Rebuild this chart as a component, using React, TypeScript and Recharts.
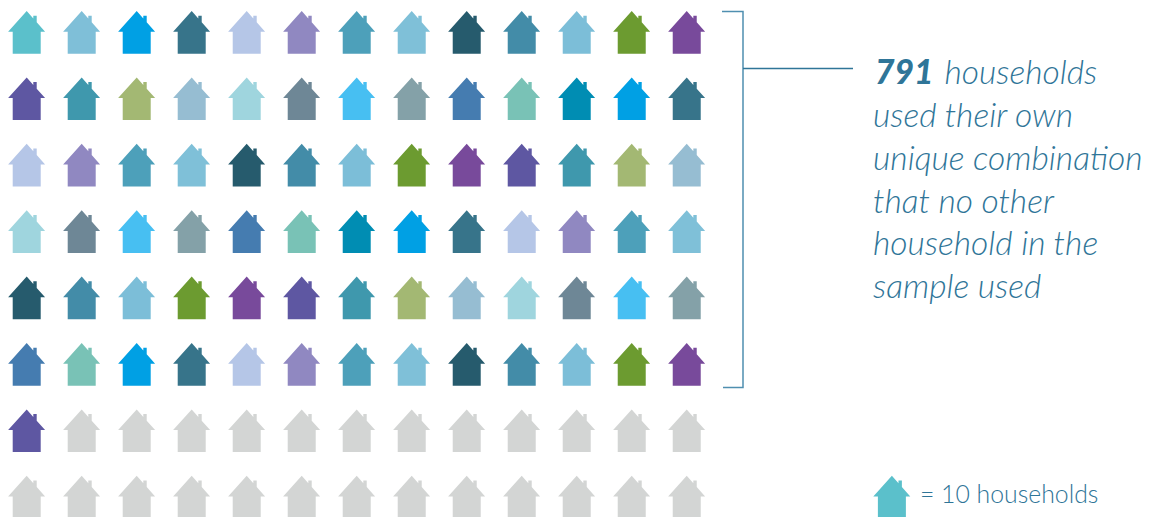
import { Scatter, ScatterChart, XAxis, YAxis } from "recharts"

const columnCount = 13
const rowCount = 8
// houses drawn in colour on each row, the rest are grey
const usedPerRow = [13, 13, 13, 13, 13, 13, 1, 0]
const legendPoint = [{ col: 15.73, row: 7 }]

const noteLines = [
  "used their own",
  "unique combination",
  "that no other",
  "household in the",
  "sample used",
]

const rowColors = [
  ["#5BC0CB", "#7FBFD8", "#00A0E4", "#37748A", "#B5C6E7", "#9088C1", "#4DA0BA", "#7FC0D8", "#265B6D", "#438CA8", "#7CBED8", "#6C9B30", "#784A9B"],
  ["#5E57A2", "#3F98AD", "#A3B873", "#96BDD2", "#9FD5DE", "#6E8796", "#47BFF2", "#84A1A8", "#457CB0", "#79C2B6", "#008DB3", "#00A0E4", "#37748A"],
  ["#B5C6E7", "#9088C1", "#4DA0BA", "#7FC0D8", "#265B6D", "#438CA8", "#7CBED8", "#6C9B30", "#784A9B", "#5E57A2", "#3F98AD", "#A3B873", "#96BDD2"],
  ["#9FD5DE", "#6E8796", "#47BFF2", "#84A1A8", "#457CB0", "#79C2B6", "#008DB3", "#00A0E4", "#37748A", "#B5C6E7", "#9088C1", "#4DA0BA", "#7FC0D8"],
  ["#265B6D", "#438CA8", "#7CBED8", "#6C9B30", "#784A9B", "#5E57A2", "#3F98AD", "#A3B873", "#96BDD2", "#9FD5DE", "#6E8796", "#47BFF2", "#84A1A8"],
  ["#457CB0", "#79C2B6", "#00A0E4", "#37748A", "#B5C6E7", "#9088C1", "#4DA0BA", "#7FC0D8", "#265B6D", "#438CA8", "#7CBED8", "#6C9B30", "#784A9B"],
  ["#5E57A2"],
  [],
]

const GREY = "#D3D5D4"
const TEXT_BLUE = "#2F7598"
const FONT = "Lato, sans-serif"

const houses = []
for (let row = 0; row < rowCount; row++) {
  for (let col = 0; col < columnCount; col++) {
    houses.push({ col, row, color: col < usedPerRow[row] ? rowColors[row][col] : GREY })
  }
}

const House = ({ cx, cy, fill, payload }) => (
  <path
    transform={`translate(${cx},${cy})`}
    fill={payload.color || fill}
    d="M0,-21.5 L6.6,-14 L6.6,-16.8 L10,-16.8 L10,-10.2 L18.4,-0.8 L14,-0.8 L14,21.2 L-14,21.2 L-14,-0.8 L-18.6,-0.8 Z"
  />
)

export default function App() {
  return (
    <div style={{ position: "absolute", left: 0, top: 0 }}>
      <ScatterChart width={1157} height={517} margin={{ top: 0, right: 0, bottom: 0, left: 0 }}>
        <XAxis type="number" dataKey="col" hide domain={[-0.4855, 20.55]} />
        <YAxis type="number" dataKey="row" hide reversed domain={[-0.4895, 7.2967]} />
        <Scatter data={houses} isAnimationActive={false} shape={House} />
        <Scatter data={legendPoint} isAnimationActive={false} fill="#5BC0CB" shape={House} />

        <path d="M722,11.5 H743 V387.5 H723" fill="none" stroke="#4F8FB0" strokeWidth={1.5} />
        <line x1={743} y1={68.5} x2={853} y2={68.5} stroke={TEXT_BLUE} strokeWidth={1.5} />

        <text x={875} y={84} fontFamily={FONT} fontSize={33.6} fill={TEXT_BLUE} fontStyle="italic" fontWeight={300}>
          <tspan fontWeight={900}>791</tspan>
          <tspan dx={11}>households</tspan>
        </text>
        {noteLines.map((line, i) => (
          <text key={line} x={873} y={127 + i * 42.75} fontFamily={FONT} fontSize={33.6} fill={TEXT_BLUE} fontStyle="italic" fontWeight={300}>
            {line}
          </text>
        ))}
        <text x={920} y={503} fontFamily={FONT} fontSize={24.8} fill={TEXT_BLUE} fontWeight={300}>
          = 10 households
        </text>
      </ScatterChart>
    </div>
  )
}
